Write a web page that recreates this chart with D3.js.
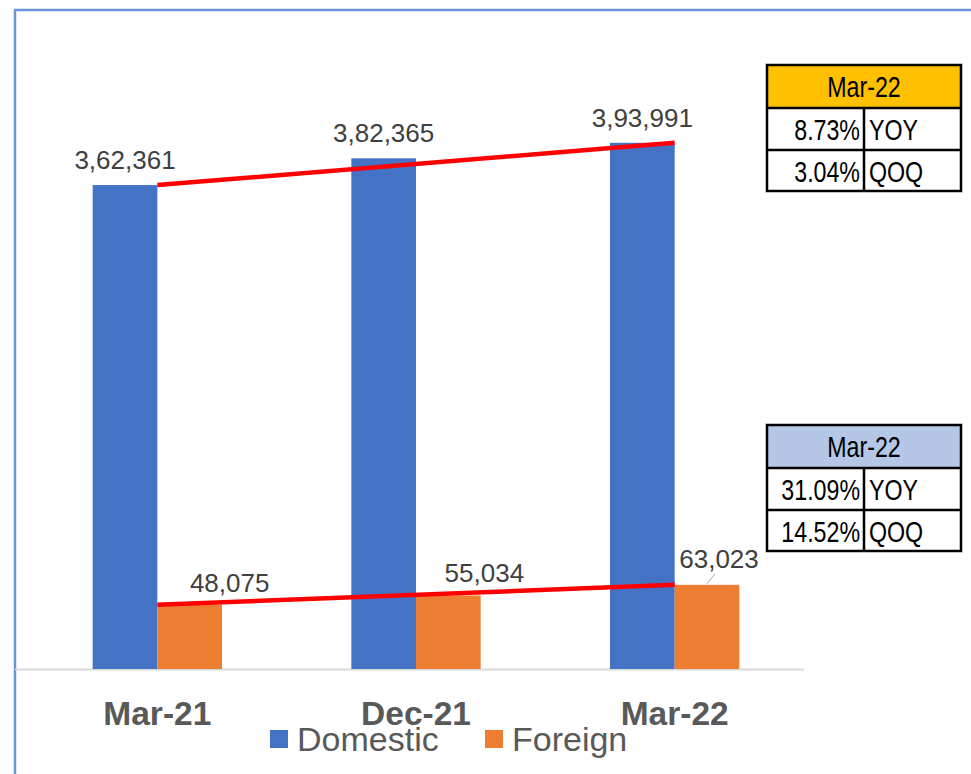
<!DOCTYPE html>
<html><head><meta charset="utf-8">
<script src="https://cdn.jsdelivr.net/npm/d3@7"></script>
<style>
html,body{margin:0;padding:0;background:#fff;}
svg{display:block;}
</style></head>
<body>
<svg id="chart" width="971" height="774"></svg>
<script>
const categories = ["Mar-21", "Dec-21", "Mar-22"];
const seriesNames = ["Domestic", "Foreign"];
const domestic = [362361, 382365, 393991];
const foreign = [48075, 55034, 63023];
const domesticLabels = ["3,62,361", "3,82,365", "3,93,991"];
const foreignLabels = ["48,075", "55,034", "63,023"];
const colors = ["#4472c4", "#ed7d31"];
const table1 = { header: "Mar-22", rows: [["8.73%", "YOY"], ["3.04%", "QOQ"]] };
const table2 = { header: "Mar-22", rows: [["31.09%", "YOY"], ["14.52%", "QOQ"]] };

const svg = d3.select("#chart");
const font = "Liberation Sans, Arial, sans-serif";

// frame
svg.append("path").attr("d", "M15,775 L15,10 L972,10")
  .attr("fill", "none").attr("stroke", "#6a93d8").attr("stroke-width", 2.5);

const x0 = d3.scaleBand().domain(categories).range([28, 804]).paddingInner(0).paddingOuter(0);
const x1 = d3.scaleBand().domain(seriesNames).range([0, x0.bandwidth()]).paddingInner(0).paddingOuter(1);
const y = d3.scaleLinear().domain([0, 450000]).range([669, 68]);

// baseline
svg.append("line").attr("x1", 15).attr("x2", 804).attr("y1", 669.5).attr("y2", 669.5)
  .attr("stroke", "#d9d9d9").attr("stroke-width", 2);

const data = categories.map((c, i) => ({ c, vals: [domestic[i], foreign[i]] }));
const g = svg.append("g");
data.forEach((d, i) => {
  d.vals.forEach((v, j) => {
    g.append("rect")
      .attr("x", x0(d.c) + x1(seriesNames[j]))
      .attr("y", y(v))
      .attr("width", x1.bandwidth())
      .attr("height", y(0) - y(v))
      .attr("fill", colors[j]);
  });
});

// red trend lines
const xr = c => x0(c) + x1("Domestic") + x1.bandwidth();
svg.append("line")
  .attr("x1", xr(categories[0])).attr("y1", y(domestic[0]))
  .attr("x2", xr(categories[2])).attr("y2", y(domestic[2]))
  .attr("stroke", "#ff0000").attr("stroke-width", 4.5);
svg.append("line")
  .attr("x1", xr(categories[0])).attr("y1", y(foreign[0]))
  .attr("x2", xr(categories[2])).attr("y2", y(foreign[2]))
  .attr("stroke", "#ff0000").attr("stroke-width", 4.5);

// data labels
categories.forEach((c, i) => {
  const cxD = x0(c) + x1("Domestic") + x1.bandwidth() / 2;
  svg.append("text").attr("x", cxD).attr("y", y(domestic[i]) - 16)
    .attr("text-anchor", "middle").attr("font-family", font).attr("font-size", 26)
    .attr("fill", "#404040").text(domesticLabels[i]);
  const cxF = x0(c) + x1("Foreign") + x1.bandwidth() / 2;
  let lx = cxF + 40, ly = y(foreign[i]) - 13;
  if (i === 1) { lx = cxF + 36; }
  if (i === 2) { lx = cxF + 12; ly = y(foreign[i]) - 17; }
  svg.append("text").attr("x", lx).attr("y", ly)
    .attr("text-anchor", "middle").attr("font-family", font).attr("font-size", 26)
    .attr("fill", "#404040").text(foreignLabels[i]);
  if (i === 2) {
    svg.append("line").attr("x1", cxF).attr("y1", y(foreign[i]) - 1)
      .attr("x2", cxF + 8).attr("y2", y(foreign[i]) - 11)
      .attr("stroke", "#a6a6a6").attr("stroke-width", 1);
  }
});

// category axis labels
categories.forEach(c => {
  svg.append("text").attr("x", x0(c) + x0.bandwidth() / 2).attr("y", 725)
    .attr("text-anchor", "middle").attr("font-family", font).attr("font-weight", "bold")
    .attr("font-size", 33.5).attr("fill", "#595959").text(c);
});

// legend
const legX = [270, 485];
seriesNames.forEach((s, j) => {
  svg.append("rect").attr("x", legX[j]).attr("y", 730).attr("width", 18).attr("height", 18)
    .attr("fill", colors[j]);
  svg.append("text").attr("x", legX[j] + 27).attr("y", 751)
    .attr("font-family", font).attr("font-size", 34).attr("fill", "#595959").text(s);
});

// tables (narrow text via horizontal scaling)
function narrowText(parent, x, yy, str, anchor) {
  parent.append("text")
    .attr("transform", `translate(${x},${yy}) scale(0.8,1)`)
    .attr("text-anchor", anchor).attr("font-family", font).attr("font-size", 29)
    .attr("fill", "#000").text(str);
}
function drawTable(t, top, headFill) {
  const left = 767, right = 961, mid = 864;
  const rowsY = [top, top + 43, top + 85, top + 126];
  const tg = svg.append("g");
  tg.append("rect").attr("x", left).attr("y", rowsY[0]).attr("width", right - left)
    .attr("height", rowsY[1] - rowsY[0]).attr("fill", headFill);
  tg.append("rect").attr("x", left).attr("y", rowsY[1]).attr("width", right - left)
    .attr("height", rowsY[3] - rowsY[1]).attr("fill", "#fff");
  tg.append("rect").attr("x", left).attr("y", rowsY[0]).attr("width", right - left)
    .attr("height", rowsY[3] - rowsY[0]).attr("fill", "none").attr("stroke", "#000").attr("stroke-width", 2.5);
  [rowsY[1], rowsY[2]].forEach(yy => tg.append("line").attr("x1", left).attr("x2", right)
    .attr("y1", yy).attr("y2", yy).attr("stroke", "#000").attr("stroke-width", 2.5));
  tg.append("line").attr("x1", mid).attr("x2", mid).attr("y1", rowsY[1]).attr("y2", rowsY[3])
    .attr("stroke", "#000").attr("stroke-width", 2.5);
  narrowText(tg, (left + right) / 2, rowsY[0] + 32, t.header, "middle");
  t.rows.forEach((r, k) => {
    narrowText(tg, mid - 4, rowsY[k + 1] + 32, r[0], "end");
    narrowText(tg, mid + 5, rowsY[k + 1] + 32, r[1], "start");
  });
}
drawTable(table1, 65, "#ffc000");
drawTable(table2, 425, "#b4c7e7");
</script>
</body></html>
